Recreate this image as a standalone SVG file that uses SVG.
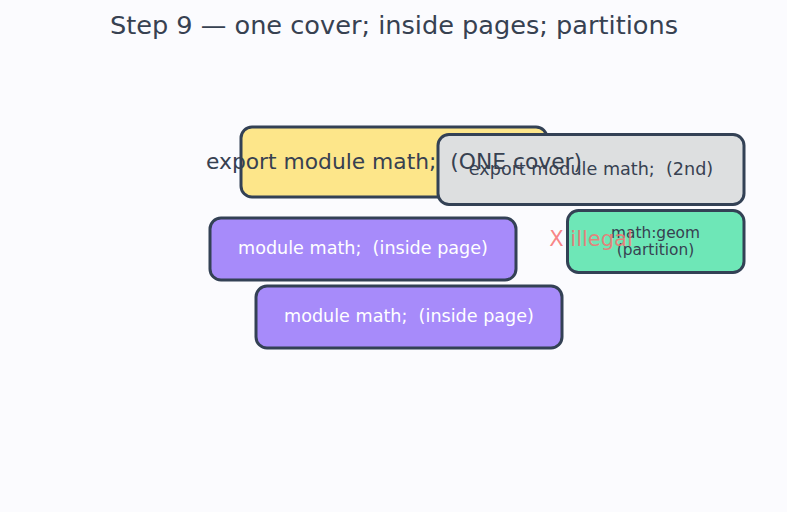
<svg xmlns="http://www.w3.org/2000/svg" width="787" height="512" viewBox="0 0 787 512">
<style>
text{font-family:"DejaVu Sans","Liberation Sans",sans-serif;text-anchor:middle;white-space:pre}
.box{stroke:#334155;stroke-width:3}
.title{font-size:25.6px;fill:#374151}
.dark{fill:#374151}
.light{fill:#ffffff}
</style>
<rect width="787" height="512" fill="#fbfbfe"/>
<text class="title" x="394" y="34">Step 9 — one cover; inside pages; partitions</text>
<g id="connectors"></g>
<g id="cover">
<rect class="box" x="241" y="127" width="306" height="70" rx="11" fill="#fde68a"/>
</g>
<g id="second">
<rect class="box" x="438" y="134.5" width="306" height="70" rx="11" fill="#dddfe0"/>
<text class="dark" x="591" y="175" font-size="17.6" xml:space="preserve">export module math;  (2nd)</text>
</g>
<g id="cover-label">
<text class="dark" x="394" y="169" font-size="21.8" xml:space="preserve">export module math;  (ONE cover)</text>
</g>
<g id="page1">
<rect class="box" x="210" y="218" width="306" height="62" rx="11" fill="#a78bfa"/>
<text class="light" x="363" y="254" font-size="17.6" xml:space="preserve">module math;  (inside page)</text>
</g>
<g id="page2">
<rect class="box" x="256" y="286" width="306" height="62" rx="11" fill="#a78bfa"/>
<text class="light" x="409" y="322" font-size="17.6" xml:space="preserve">module math;  (inside page)</text>
</g>
<g id="partition">
<rect class="box" x="567.5" y="210.5" width="176.5" height="62" rx="11" fill="#6ee7b7"/>
<text class="dark" x="655.5" y="238" font-size="15.4">math:geom</text>
<text class="dark" x="655.5" y="255" font-size="15.4">(partition)</text>
</g>
<g id="illegal">
<text x="591" y="246" font-size="21" fill="#f87171" fill-opacity="0.85">X illegal</text>
</g>
</svg>
